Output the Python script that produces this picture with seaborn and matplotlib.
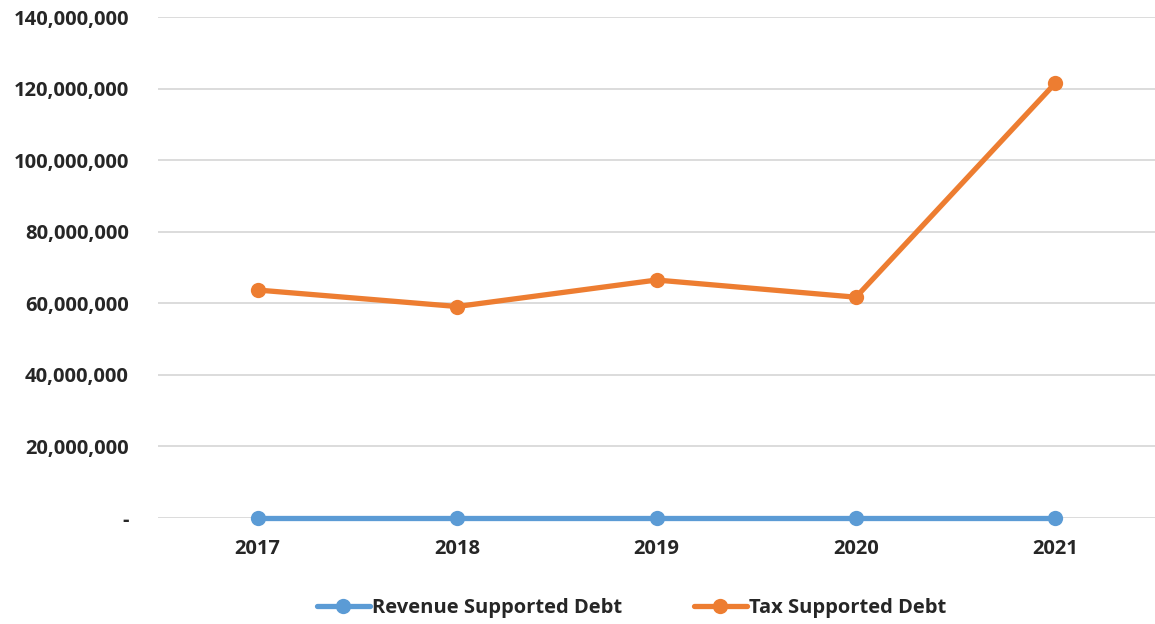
import matplotlib
matplotlib.use("Agg")
import matplotlib.pyplot as plt
import seaborn as sns
import pandas as pd
from matplotlib.ticker import FuncFormatter

# Données
years = ["2017", "2018", "2019", "2020", "2021"]
revenue_debt = [0, 0, 0, 0, 0]
tax_debt = [63_700_000, 59_100_000, 66_500_000, 61_700_000, 121_500_000]
series_names = ["Revenue Supported Debt", "Tax Supported Debt"]
colors = ["#5B9BD5", "#ED7D31"]

df = pd.DataFrame({
    "year": years * 2,
    "value": revenue_debt + tax_debt,
    "series": [series_names[0]] * len(years) + [series_names[1]] * len(years),
})

sns.set_style("white")
plt.rcParams['font.family'] = ['Open Sans', 'DejaVu Sans']
plt.rcParams['font.weight'] = 'bold'

fig = plt.figure(figsize=(11.55, 6.24), dpi=100)
ax = fig.add_axes([158 / 1155, 1 - 518 / 624, (1155 - 158) / 1155, (518 - 17) / 624])

sns.lineplot(data=df, x="year", y="value", hue="series", palette=colors,
             marker="o", markersize=11, markeredgewidth=0, linewidth=3.8,
             sort=False, ax=ax, clip_on=False, zorder=3)

ax.set_ylim(0, 140_000_000)
ax.set_xlim(-0.5, 4.5)
ax.set_yticks(range(0, 140_000_001, 20_000_000))
ax.yaxis.set_major_formatter(FuncFormatter(lambda v, p: "-" if v == 0 else f"{v:,.0f}"))
ax.grid(axis="y", color="#D9D9D9", linewidth=1.3)
ax.grid(axis="x", visible=False)
for s in ax.spines.values():
    s.set_visible(False)
ax.tick_params(axis="y", length=0, pad=21, labelsize=14.5)
ax.tick_params(axis="x", length=0, pad=15, labelsize=14.5)
for lbl in ax.get_xticklabels() + ax.get_yticklabels():
    lbl.set_fontweight("bold")
ax.set_xlabel("")
ax.set_ylabel("")

leg = ax.legend(loc="center", bbox_to_anchor=(0.475, -0.18), ncol=2, frameon=False,
                fontsize=14.5, handlelength=2.6, columnspacing=3.6, handletextpad=0.1)
for t in leg.get_texts():
    t.set_fontweight("bold")

fig.savefig("out.png", dpi=100)
